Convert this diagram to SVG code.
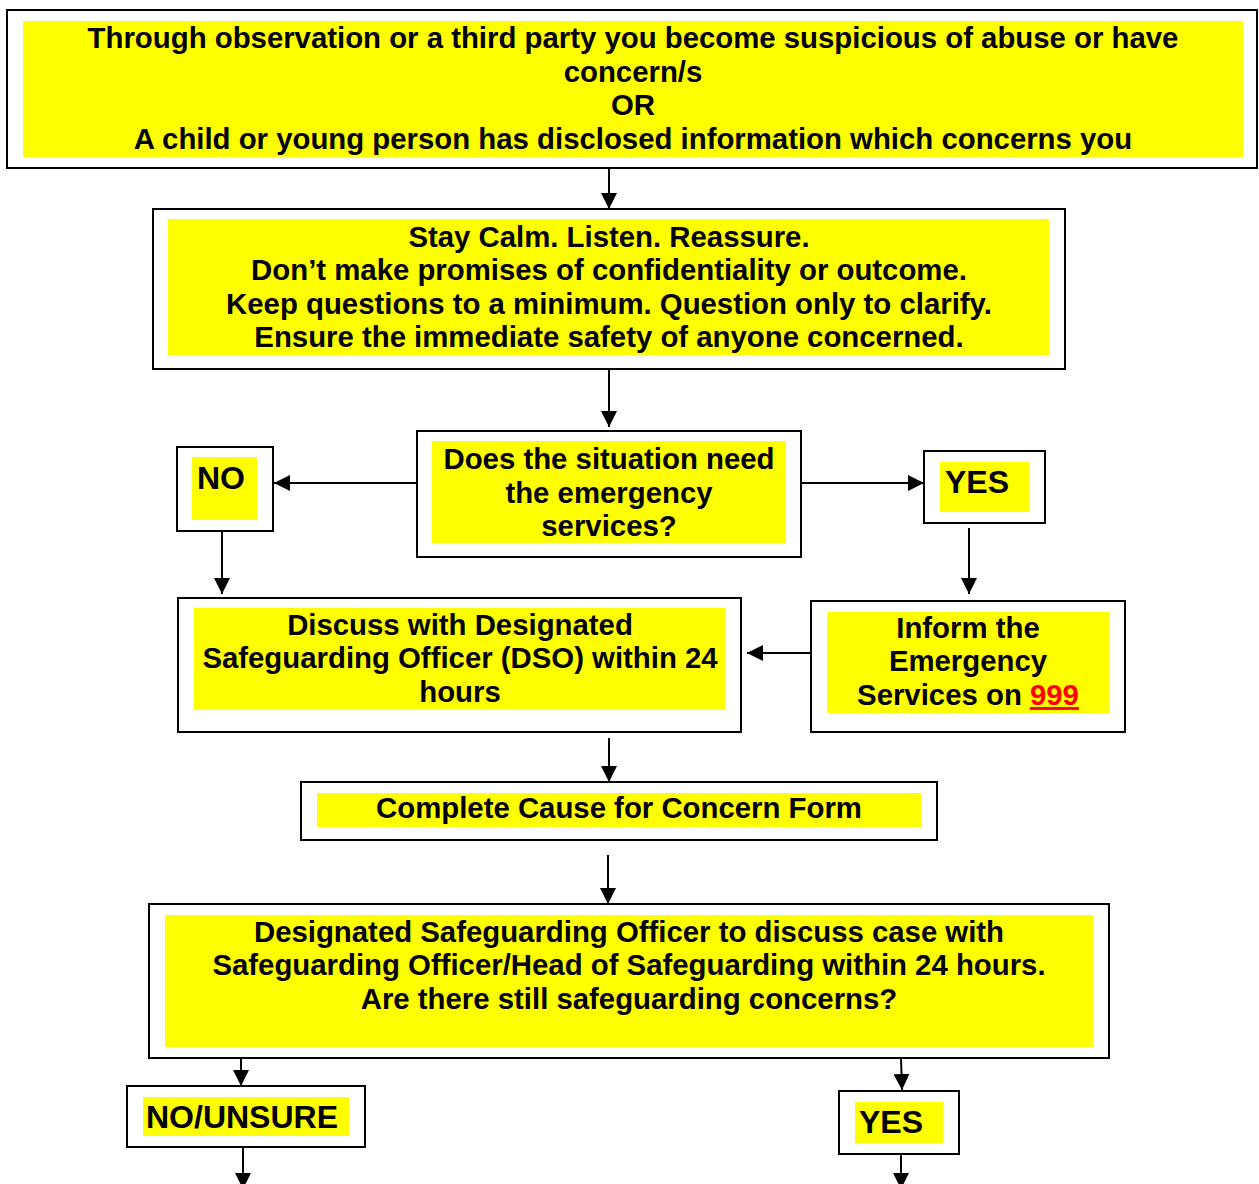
<svg xmlns="http://www.w3.org/2000/svg" width="1259" height="1184" viewBox="0 0 1259 1184">
<style>
.box{fill:#fff;stroke:#000;stroke-width:2}
.hl{fill:#ffff00}
.t{font-family:"Liberation Sans",Arial,sans-serif;font-weight:bold;font-size:29.35px;fill:#000;text-anchor:middle}
.big{font-family:"Liberation Sans",Arial,sans-serif;font-weight:bold;font-size:32px;fill:#000}
.c{fill:none;stroke:#000;stroke-width:2}
</style>
<defs>
<marker id="ah" markerUnits="userSpaceOnUse" markerWidth="16" markerHeight="16" refX="16" refY="8" orient="auto">
<path d="M0,0 L16,8 L0,16 z" fill="#000"/>
</marker>
</defs>
<rect width="1259" height="1184" fill="#fff"/>
<g id="start">
<rect class="box" x="7" y="10" width="1250" height="158"/>
<rect class="hl" x="23" y="21" width="1220" height="136"/>
<text class="t" x="633" y="48">Through observation or a third party you become suspicious of abuse or have</text>
<text class="t" x="633" y="82">concern/s</text>
<text class="t" x="633" y="115">OR</text>
<text class="t" x="633" y="149">A child or young person has disclosed information which concerns you</text>
</g>
<g id="calm">
<rect class="box" x="153" y="209" width="912" height="160"/>
<rect class="hl" x="168" y="219" width="881" height="136"/>
<text class="t" x="609" y="247">Stay Calm. Listen. Reassure.</text>
<text class="t" x="609" y="280">Don’t make promises of confidentiality or outcome.</text>
<text class="t" x="609" y="314">Keep questions to a minimum. Question only to clarify.</text>
<text class="t" x="609" y="347">Ensure the immediate safety of anyone concerned.</text>
</g>
<g id="decision">
<rect class="box" x="417" y="431" width="384" height="126"/>
<rect class="hl" x="432" y="441" width="354" height="102"/>
<text class="t" x="609" y="469">Does the situation need</text>
<text class="t" x="609" y="503">the emergency</text>
<text class="t" x="609" y="536">services?</text>
</g>
<g id="no1">
<rect class="box" x="177" y="447" width="96" height="84"/>
<rect class="hl" x="192" y="457" width="65" height="63"/>
<text class="big" x="197" y="489">NO</text>
</g>
<g id="yes1">
<rect class="box" x="924" y="451" width="121" height="72"/>
<rect class="hl" x="940" y="462" width="89" height="50"/>
<text class="big" x="945" y="493">YES</text>
</g>
<g id="discuss">
<rect class="box" x="178" y="598" width="563" height="134"/>
<rect class="hl" x="194" y="608" width="531" height="102"/>
<text class="t" x="460" y="635">Discuss with Designated</text>
<text class="t" x="460" y="668">Safeguarding Officer (DSO) within 24</text>
<text class="t" x="460" y="702">hours</text>
</g>
<g id="inform">
<rect class="box" x="811" y="601" width="314" height="131"/>
<rect class="hl" x="827" y="612" width="282" height="101"/>
<text class="t" x="968" y="638">Inform the</text>
<text class="t" x="968" y="671">Emergency</text>
<text class="t" x="968" y="705">Services on <tspan fill="#ff0000" text-decoration="underline">999</tspan></text>
</g>
<g id="form">
<rect class="box" x="301" y="782" width="636" height="58"/>
<rect class="hl" x="317" y="793" width="604" height="34"/>
<text class="t" x="619" y="818">Complete Cause for Concern Form</text>
</g>
<g id="dso">
<rect class="box" x="149" y="904" width="960" height="154"/>
<rect class="hl" x="165" y="915" width="928" height="132"/>
<text class="t" x="629" y="942">Designated Safeguarding Officer to discuss case with</text>
<text class="t" x="629" y="975">Safeguarding Officer/Head of Safeguarding within 24 hours.</text>
<text class="t" x="629" y="1009">Are there still safeguarding concerns?</text>
</g>
<g id="unsure">
<rect class="box" x="127" y="1086" width="238" height="61"/>
<rect class="hl" x="143" y="1097" width="206" height="39"/>
<text class="big" x="146" y="1128">NO/UNSURE</text>
</g>
<g id="yes2">
<rect class="box" x="839" y="1091" width="120" height="63"/>
<rect class="hl" x="855" y="1102" width="88" height="41"/>
<text class="big" x="859" y="1133">YES</text>
</g>
<g id="connectors">
<line class="c" x1="609" y1="168" x2="609" y2="209" marker-end="url(#ah)"/>
<line class="c" x1="609" y1="369" x2="609" y2="427" marker-end="url(#ah)"/>
<line class="c" x1="417" y1="483" x2="274" y2="483" marker-end="url(#ah)"/>
<line class="c" x1="801" y1="483" x2="924" y2="483" marker-end="url(#ah)"/>
<line class="c" x1="222" y1="531" x2="222" y2="594" marker-end="url(#ah)"/>
<line class="c" x1="969" y1="528" x2="969" y2="594" marker-end="url(#ah)"/>
<line class="c" x1="811" y1="653" x2="747" y2="653" marker-end="url(#ah)"/>
<line class="c" x1="609" y1="738" x2="609" y2="782" marker-end="url(#ah)"/>
<line class="c" x1="608" y1="855" x2="608" y2="904" marker-end="url(#ah)"/>
<line class="c" x1="241" y1="1058" x2="241" y2="1086" marker-end="url(#ah)"/>
<line class="c" x1="901" y1="1058" x2="902" y2="1090" marker-end="url(#ah)"/>
<line class="c" x1="243" y1="1147" x2="243" y2="1189" marker-end="url(#ah)"/>
<line class="c" x1="901" y1="1154" x2="901" y2="1189" marker-end="url(#ah)"/>
</g>
</svg>
